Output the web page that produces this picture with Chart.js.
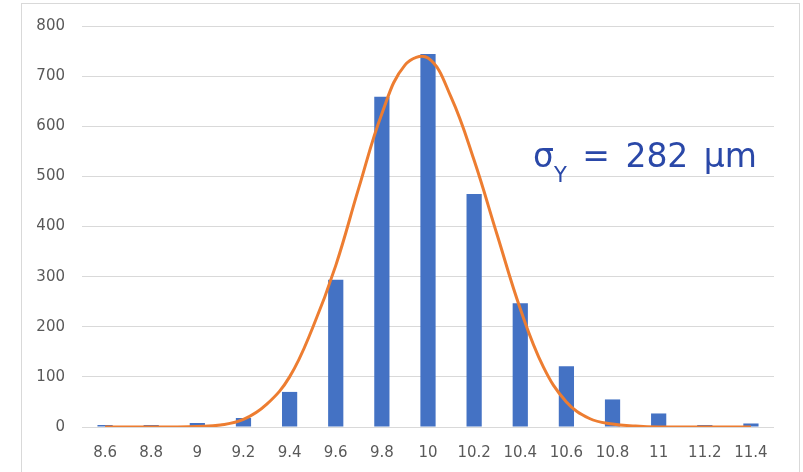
<!DOCTYPE html>
<html lang="en">
<head>
  <meta charset="UTF-8" />
  <title>Y distribution</title>
  <script src="https://cdn.jsdelivr.net/npm/chart.js"></script>
  <style>
    body {
      margin: 0;
      background: #fff;
    }
    .wrap {
      position: relative;
      width: 803px;
      height: 472px;
      overflow: hidden;
    }
    .frame {
      position: absolute;
      left: 21px;
      top: 3px;
      width: 777px;
      height: 490px;
      border: 1px solid #d9d9d9;
    }
    .note {
      position: absolute;
      left: 533px;
      top: 139px;
      font-family: "DejaVu Sans", sans-serif;
      font-size: 33px;
      line-height: 33px;
      word-spacing: 5px;
      color: #2a48a8;
      white-space: nowrap;
    }
    .note sub {
      font-size: 21px;
      vertical-align: -15px;
      line-height: 0;
    }
  </style>
</head>
<body>

<div class="wrap">
  <div class="frame"></div>
  <canvas id="histChart" width="803" height="472"></canvas>
  <div class="note">σ<sub>Y</sub> = 282 µm</div>
</div>

<script>
  // histogram bins and counts
  const bins = ['8.6', '8.8', '9', '9.2', '9.4', '9.6', '9.8', '10', '10.2', '10.4', '10.6', '10.8', '11', '11.2', '11.4'];
  const counts = [4, 4, 8, 18, 70, 294, 659, 744, 465, 247, 121, 55, 27, 4, 7];

  // fitted curve, sampled every 0.1
  const fitX = [8.6, 8.7, 8.8, 8.9, 9.0, 9.1, 9.2, 9.3, 9.4, 9.5, 9.6, 9.7, 9.8, 9.9, 10.0,
                10.1, 10.2, 10.3, 10.4, 10.5, 10.6, 10.7, 10.8, 10.9, 11.0, 11.1, 11.2, 11.3, 11.4];
  const fitY = [0, 0, 0, 0, 1, 4, 15, 45, 100, 198, 322, 477, 625, 722, 736,
                658, 532, 383, 236, 120, 50, 17, 6, 2, 0, 0, 0, 0, 0];

  const yTicks = [0, 100, 200, 300, 400, 500, 600, 700, 800];

  const tickFont = { family: 'DejaVu Sans', size: 15 };
  const grey = '#595959';

  new Chart(document.getElementById('histChart'), {
    type: 'bar',
    data: {
      labels: bins,
      datasets: [
        {
          type: 'line',
          data: fitX.map((x, i) => ({ x: x, y: fitY[i] })),
          xAxisID: 'x2',
          borderColor: '#ed7d31',
          borderWidth: 3,
          pointRadius: 0,
          tension: 0.4,
          order: 0
        },
        {
          type: 'bar',
          data: counts,
          xAxisID: 'x',
          backgroundColor: '#4472c4',
          grouped: false,
          barPercentage: 0.33,
          categoryPercentage: 1,
          order: 1
        }
      ]
    },
    options: {
      responsive: false,
      animation: false,
      layout: { padding: { top: 25, right: 29, bottom: 0, left: 0 } },
      plugins: {
        legend: { display: false },
        tooltip: { enabled: false }
      },
      scales: {
        x: {
          type: 'category',
          grid: { display: false },
          border: { display: false },
          ticks: { color: grey, font: tickFont, padding: 9, autoSkip: false, maxRotation: 0 },
          afterFit(scale) { scale.height = 45; }
        },
        // hidden linear axis for the fitted curve, spanning the same width as the bins
        x2: {
          type: 'linear',
          display: false,
          offset: false,
          min: 8.5,
          max: 11.5
        },
        y: {
          min: 0,
          max: 800,
          afterBuildTicks(scale) { scale.ticks = yTicks.map(v => ({ value: v })); },
          grid: { color: '#d9d9d9', lineWidth: 1, drawTicks: false },
          border: { display: false },
          ticks: { color: grey, font: tickFont, padding: 17 },
          afterFit(scale) { scale.width = 82; }
        }
      }
    }
  });
</script>

</body>
</html>
